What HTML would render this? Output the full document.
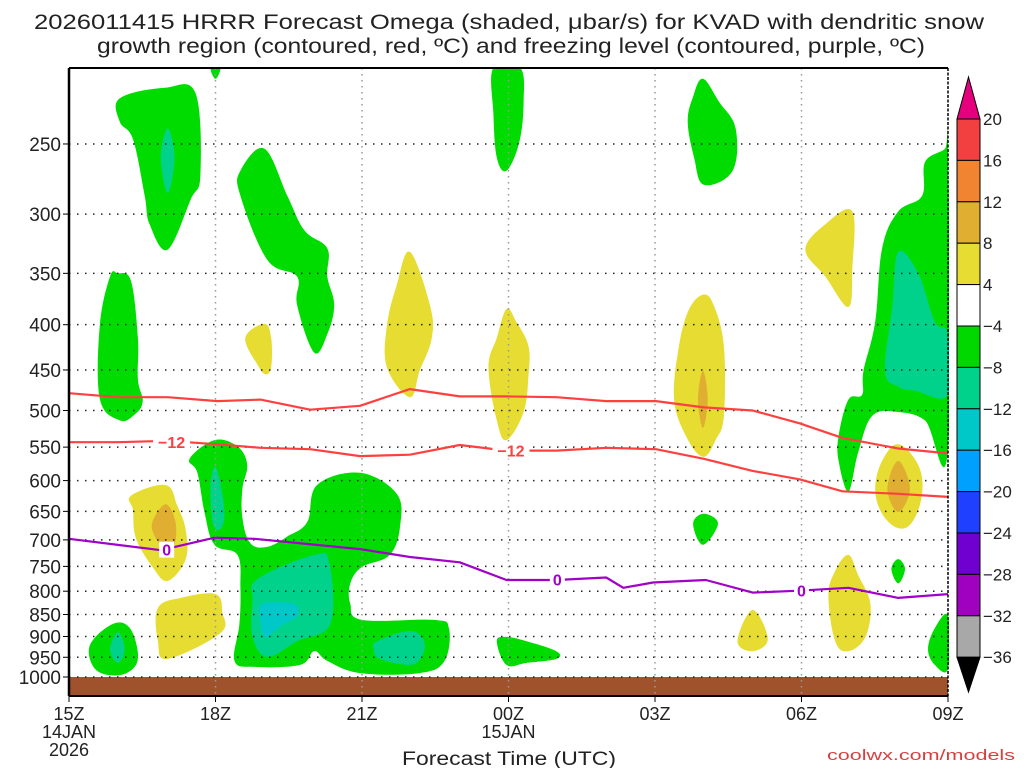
<!DOCTYPE html>
<html><head><meta charset="utf-8"><style>
html,body{margin:0;padding:0;background:#fff;}
svg{display:block;font-family:"Liberation Sans",sans-serif;}
</style></head><body>
<svg id="chart" width="1024" height="768" viewBox="0 0 1024 768" xmlns="http://www.w3.org/2000/svg">
<g id="title" fill="#222" font-size="21">
<text x="509" y="29" text-anchor="middle" textLength="950" lengthAdjust="spacingAndGlyphs">2026011415 HRRR Forecast Omega (shaded, μbar/s) for KVAD with dendritic snow</text>
<text x="511" y="53" text-anchor="middle" textLength="828" lengthAdjust="spacingAndGlyphs">growth region (contoured, red, ºC) and freezing level (contoured, purple, ºC)</text>
</g>
<g id="fills"></g>
<g id="grid"></g>
<g id="lines"></g>
<g id="axes"></g>
<g id="cbar"></g>
<text x="509" y="765" text-anchor="middle" font-size="19" fill="#222" textLength="214" lengthAdjust="spacingAndGlyphs">Forecast Time (UTC)</text>
<text x="1015" y="760" text-anchor="end" font-size="15" fill="#d84040" textLength="188" lengthAdjust="spacingAndGlyphs">coolwx.com/models</text>
</svg>
<script>
// ---- data: [hours after 15Z, pressure hPa] ----
const greenTopLeft=[[1.04,222],[1.96,216],[2.59,219],[2.69,271],[2.49,289],[2.02,329],[1.65,308],[1.55,286],[1.31,247],[1.04,236]];
const tealTopLeft=[[2.02,240],[2.16,259],[2.02,284],[1.88,259]];
const greenMidLeft=[[0.63,401],[0.84,353],[1.0,350],[1.27,357],[1.41,414],[1.41,461],[1.51,488],[1.35,505],[1.04,513],[0.63,485]];
const greenDiag=[[3.51,268],[4.0,253],[4.47,286],[4.82,313],[5.29,328],[5.29,353],[5.43,380],[5.29,410],[5.02,430],[4.67,380],[4.67,353],[4.06,338],[3.51,286]];
const yellowSmall=[[3.61,414],[4.0,399],[4.14,414],[4.14,447],[4.02,455],[3.86,444]];
const yellow22=[[6.98,331],[7.39,380],[7.43,414],[7.18,451],[6.98,483],[6.51,447],[6.51,401],[6.71,361]];
const greenTop00=[[8.69,205],[9.24,205],[9.31,224],[9.22,249],[8.96,268],[8.76,259],[8.69,231]];
const yellow00=[[8.96,384],[9.16,397],[9.41,423],[9.41,456],[9.31,502],[8.96,540],[8.76,513],[8.59,447],[8.76,414]];
const greenTop18=[[2.9,205],[3.1,205],[3.0,211]];
const yellow17=[[1.27,624],[1.98,607],[2.22,641],[2.39,682],[2.39,736],[2.02,779],[1.71,751],[1.37,697],[1.31,648]];
const orange17=[[1.71,668],[1.98,638],[2.18,668],[2.16,709],[1.98,717],[1.76,694]];
const yellowLow17=[[1.82,836],[2.29,814],[3.0,806],[3.14,845],[3.1,892],[2.02,954],[1.82,911]];
const greenLowLeft=[[0.43,920],[0.9,871],[1.24,880],[1.41,939],[1.31,979],[0.94,996],[0.53,979]];
const tealLowLeft=[[1.0,890],[1.14,930],[1.0,964],[0.84,930]];
const greenBig=[[2.47,567],[2.98,540],[3.45,549],[3.65,576],[3.55,613],[3.55,661],[3.71,706],[4.06,713],[4.47,694],[4.88,668],[5.08,607],[5.96,588],[6.71,621],[6.78,675],[6.57,728],[6.0,751],[5.76,784],[5.76,827],[6.0,862],[7.47,862],[7.78,881],[7.69,959],[7.18,990],[5.96,990],[5.29,959],[5.02,935],[4.73,969],[3.8,974],[3.39,959],[3.49,871],[3.51,792],[3.45,728],[2.98,709],[2.78,654],[2.63,588]];
const teal18=[[3.0,579],[3.14,621],[3.18,661],[3.08,682],[2.94,668],[2.9,607]];
const tealBig=[[3.86,775],[5.02,728],[5.33,743],[5.35,871],[4.67,911],[4.06,949],[3.76,901],[3.76,819]];
const cyanBig=[[3.96,827],[4.61,827],[4.67,853],[4.33,876],[4.02,901],[3.92,862]];
const tealRight21=[[6.31,911],[6.98,887],[7.27,911],[7.22,949],[6.98,969],[6.37,954],[6.24,930]];
const greenTop04=[[12.98,211],[13.31,224],[13.65,240],[13.59,268],[13.0,278],[12.8,259],[12.67,236],[12.78,221]];
const yellow04=[[12.98,370],[13.2,380],[13.41,423],[13.41,507],[13.24,540],[12.98,564],[12.63,534],[12.39,485],[12.49,423],[12.69,385]];
const orange04=[[12.98,451],[13.08,486],[12.98,523],[12.88,486]];
const greenDia04=[[12.78,671],[13.0,654],[13.29,671],[12.98,709]];
const yellow05=[[14.0,840],[14.31,906],[14.0,935],[13.69,911]];
const yellow06=[[15.08,329],[15.49,308],[16.04,298],[16.04,346],[15.96,382],[15.49,353]];
const yellow07=[[15.96,728],[16.16,767],[16.41,827],[16.31,901],[15.96,935],[15.69,911],[15.55,810],[15.69,759]];
const greenDia08=[[16.98,736],[17.12,755],[16.98,784],[16.84,755]];
const yellow08=[[16.98,546],[17.39,576],[17.47,621],[17.27,668],[16.98,679],[16.65,654],[16.51,613],[16.65,570]];
const orange08=[[16.98,570],[17.22,613],[16.98,651],[16.76,613]];
const greenRight=[[18,245],[17.94,253],[17.53,262],[17.47,286],[16.98,298],[16.65,328],[16.51,397],[16.27,451],[16.24,480],[15.96,486],[15.76,534],[15.76,570],[15.96,617],[16.16,558],[16.45,507],[16.98,502],[17.53,513],[18,553]];
const tealRight=[[16.98,331],[17.39,350],[17.73,397],[18,410],[18,480],[17.33,475],[16.98,470],[16.71,451],[16.86,381]];
const greenLowRight=[[18,853],[17.73,881],[17.59,930],[17.73,969],[18,979]];
const greenLow00=[[8.96,901],[9.37,911],[9.98,935],[9.98,954],[9.37,964],[8.96,969],[8.76,911]];
// contour lines
const lineHours=[0,1.0,2.02,3.04,3.92,4.94,5.96,6.98,8.0,8.96,9.98,11.0,12.02,13.0,14.0,14.96,15.84,16.98,18];
const dgzTopP=[478,483,483,488,486,499,494,473,482,482,483,488,488,496,500,517,537,552,559];
const dgzBotP=[543,543,541,546,551,553,563,561,547,555,555,551,553,567,585,598,617,621,626];
const frzHours=[0,1.88,2.98,3.8,5.96,6.98,8.0,8.96,9.98,11.0,11.35,11.96,13.04,14.0,14.94,15.96,16.98,18];
const frzP=[698,719,696,698,717,732,742,777,777,772,793,782,777,803,799,793,814,806];
// axes
const pTicks=[250,300,350,400,450,500,550,600,650,700,750,800,850,900,950,1000];
const tTickHours=[0,3,6,9,12,15,18];
const tTickLabels=["15Z","18Z","21Z","00Z","03Z","06Z","09Z"];
const cbarLabels=["20","16","12","8","4","−4","−8","−12","−16","−20","−24","−28","−32","−36"];
const cbarColors=["#f24040","#f08430","#e0ae30","#e6dc32","#ffffff","#00d800","#00d28c","#00c8c8","#00a0ff","#2040ff","#7000d0","#a000c0","#a8a8a8"];

const NS="http://www.w3.org/2000/svg";
const X0=69,X1=948,Y1000=677,YS=384.5;
function xs(h){return X0+h*(X1-X0)/18;}
function ys(p){return Y1000-YS*Math.log(1000/p);}
function mk(tag,attrs,parent){const e=document.createElementNS(NS,tag);for(const k in attrs)e.setAttribute(k,attrs[k]);parent.appendChild(e);return e;}
const fills=document.getElementById('fills');
function smoothClosed(P){
  const n=P.length;let d=`M${P[0][0].toFixed(1)},${P[0][1].toFixed(1)}`;
  const t=0.18;
  for(let i=0;i<n;i++){
    const p0=P[(i-1+n)%n],p1=P[i],p2=P[(i+1)%n],p3=P[(i+2)%n];
    const c1=[p1[0]+(p2[0]-p0[0])*t,p1[1]+(p2[1]-p0[1])*t];
    const c2=[p2[0]-(p3[0]-p1[0])*t,p2[1]-(p3[1]-p1[1])*t];
    d+=`C${c1[0].toFixed(1)},${c1[1].toFixed(1)} ${c2[0].toFixed(1)},${c2[1].toFixed(1)} ${p2[0].toFixed(1)},${p2[1].toFixed(1)}`;
  }
  return d+'Z';
}
function blob(arr,color,name){
  const P=arr.map(d=>[xs(d[0]),ys(d[1])]);
  const e=mk('path',{d:smoothClosed(P),fill:color},fills);
  
  
}
const G="#00dc00",T="#00d28c",C="#00c8c8",Y="#e6dc32",O="#e0ae30";
blob(greenTopLeft,G,'ascent-region');blob(tealTopLeft,T,'ascent-core');
blob(greenMidLeft,G,'ascent-region');blob(greenDiag,G,'ascent-region');
blob(yellowSmall,Y,'descent-region');blob(yellow22,Y,'descent-region');
blob(greenTop00,G,'ascent-region');blob(yellow00,Y,'descent-region');
blob(greenTop18,G,'ascent-region');
blob(yellow17,Y,'descent-region');blob(orange17,O,'descent-core');
blob(yellowLow17,Y,'descent-region');
blob(greenLowLeft,G,'ascent-region');blob(tealLowLeft,T,'ascent-core');
blob(greenBig,G,'ascent-region');blob(teal18,T,'ascent-core');
blob(tealBig,T,'ascent-core');blob(cyanBig,C,'ascent-core-strong');
blob(tealRight21,T,'ascent-core');
blob(greenTop04,G,'ascent-region');blob(yellow04,Y,'descent-region');blob(orange04,O,'descent-core');
blob(greenDia04,G,'ascent-region');blob(yellow05,Y,'descent-region');
blob(yellow06,Y,'descent-region');blob(yellow07,Y,'descent-region');
blob(greenDia08,G,'ascent-region');blob(yellow08,Y,'descent-region');blob(orange08,O,'descent-core');
blob(greenRight,G,'ascent-region');blob(tealRight,T,'ascent-core');
blob(greenLowRight,G,'ascent-region');blob(greenLow00,G,'ascent-region');
// clip right-edge overflow
const cover=mk('rect',{x:X1+1,y:60,width:8,height:640,fill:'#fff'},fills);


const cover2=mk('rect',{x:X0-10,y:60,width:9,height:640,fill:'#fff'},fills);


const cover3=mk('rect',{x:X0,y:60,width:X1-X0,height:8,fill:'#fff'},fills);


// ground
const gnd=mk('rect',{x:X0,y:ys(1000),width:X1-X0,height:696-ys(1000),fill:'#a0522d'},fills);



// grid
const grid=document.getElementById('grid');
pTicks.forEach(p=>{
  const l=mk('line',{x1:X0,x2:X1,y1:ys(p),y2:ys(p),stroke:'#222','stroke-width':1.5,'stroke-dasharray':'1.5 6.5'},grid);
  
  
});
tTickHours.slice(1,-1).forEach(h=>{
  const l=mk('line',{x1:xs(h),x2:xs(h),y1:68,y2:696,stroke:'#999','stroke-width':1.5,'stroke-dasharray':'1.5 4.5'},grid);
  
  
});

// lines
const lines=document.getElementById('lines');
function poly(hs,ps,color,name){
  const pts=hs.map((h,i)=>xs(h).toFixed(1)+','+ys(ps[i]).toFixed(1)).join(' ');
  const e=mk('polyline',{points:pts,fill:'none',stroke:color,'stroke-width':2.2,'stroke-linejoin':'round'},lines);
  
  
}
poly(lineHours,dgzTopP,'#ff4040','dgz-upper-contour');
poly(lineHours,dgzBotP,'#ff4040','dgz-lower-contour');
poly(frzHours,frzP,'#a000c8','freezing-level-contour');
function clabel(h,p,txt,color){
  const g=mk('g',{},lines);
  mk('rect',{x:xs(h)-(txt.length*5.5)-2,y:ys(p)-8,width:txt.length*11+4,height:16,fill:'#fff'},g);
  const t=mk('text',{x:xs(h),y:ys(p)+6,'text-anchor':'middle','font-size':16,'font-weight':'bold',fill:color},g);
  t.textContent=txt;
  
  
}
clabel(2.1,543,'−12','#ff4040');clabel(9.05,555,'−12','#ff4040');
clabel(2.0,718,'0','#a000c8');clabel(10.0,776,'0','#a000c8');clabel(15.0,799,'0','#a000c8');

// axes
const ax=document.getElementById('axes');
mk('line',{x1:X0,x2:X1,y1:68,y2:68,stroke:'#000','stroke-width':2},ax);
mk('line',{x1:X0,x2:X1,y1:696,y2:696,stroke:'#000','stroke-width':2},ax);
mk('line',{x1:X0,x2:X0,y1:68,y2:696,stroke:'#000','stroke-width':2.5},ax);
mk('line',{x1:X1,x2:X1,y1:68,y2:696,stroke:'#000','stroke-width':1.5,'stroke-dasharray':'3 1.5'},ax);
pTicks.forEach(p=>{
  mk('line',{x1:X0-6,x2:X0,y1:ys(p),y2:ys(p),stroke:'#000','stroke-width':1},ax);
  const t=mk('text',{x:X0-8,y:ys(p)+7,'text-anchor':'end','font-size':19,fill:'#222'},ax);
  t.textContent=String(p);
  
  
});
tTickHours.forEach((h,i)=>{
  mk('line',{x1:xs(h),x2:xs(h),y1:696,y2:702,stroke:'#000','stroke-width':1},ax);
  const t=mk('text',{x:xs(h),y:720,'text-anchor':'middle','font-size':18,fill:'#222'},ax);
  t.textContent=tTickLabels[i];
  
  
});
[['14JAN',0,738],['2026',0,756],['15JAN',9,738]].forEach(d=>{
  const t=mk('text',{x:xs(d[1]),y:d[2],'text-anchor':'middle','font-size':18,fill:'#222'},ax);
  t.textContent=d[0];
  
  
});

// colorbar
const cb=document.getElementById('cbar');
const CX=957,CW=23,CY0=119,CH=41.4;
mk('polygon',{points:`${CX},${CY0} ${CX+CW},${CY0} ${CX+CW/2},77`,fill:'#e6007e',stroke:'#000','stroke-width':1},cb);
cbarColors.forEach((c,i)=>{
  const r=mk('rect',{x:CX,y:CY0+i*CH,width:CW,height:CH,fill:c,stroke:'#000','stroke-width':1},cb);
  
  
});
const yb=CY0+cbarColors.length*CH;
mk('polygon',{points:`${CX},${yb} ${CX+CW},${yb} ${CX+CW/2},692`,fill:'#000',stroke:'#000','stroke-width':1},cb);
cbarLabels.forEach((s,i)=>{
  const t=mk('text',{x:983,y:CY0+i*CH+6,'font-size':17,fill:'#222'},cb);
  t.textContent=s;
  
  
});
</script>
</body></html>
